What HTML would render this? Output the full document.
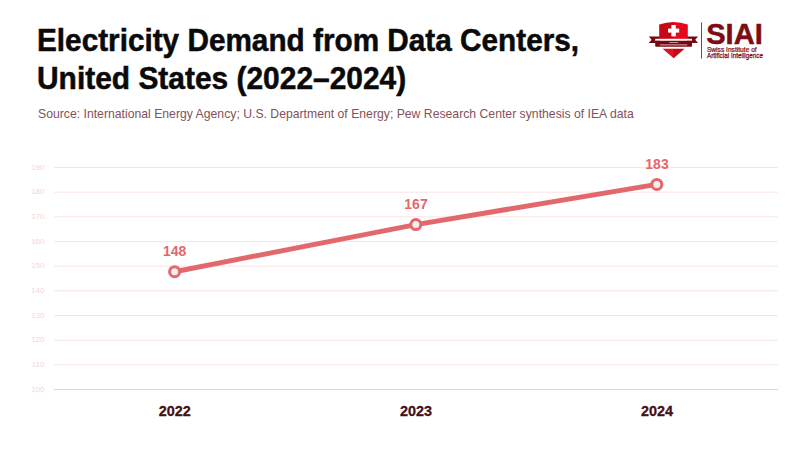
<!DOCTYPE html>
<html>
<head>
<meta charset="utf-8">
<style>
html,body{margin:0;padding:0;background:#fff;}
body{width:800px;height:450px;position:relative;overflow:hidden;font-family:"Liberation Sans",sans-serif;}
.t{position:absolute;white-space:nowrap;transform-origin:0 0;line-height:1;}
#t1{left:37px;top:25px;font-size:30.5px;transform:scaleX(0.975);font-weight:bold;color:#0a0a0a;-webkit-text-stroke:0.5px #0a0a0a;}
#t2{left:37px;top:63px;font-size:30.5px;transform:scaleX(0.981);font-weight:bold;color:#0a0a0a;-webkit-text-stroke:0.5px #0a0a0a;}
#sub{left:37.5px;top:108px;font-size:12.8px;transform:scaleX(0.955);color:#83525a;}
svg{position:absolute;left:0;top:0;}
</style>
</head>
<body>
<div class="t" id="t1">Electricity Demand from Data Centers,</div>
<div class="t" id="t2">United States (2022–2024)</div>
<div class="t" id="sub">Source: International Energy Agency; U.S. Department of Energy; Pew Research Center synthesis of IEA data</div>

<svg width="800" height="450" viewBox="0 0 800 450">
  <g stroke="#fbe3e3" stroke-width="1">
    <line x1="54" y1="167.5" x2="778" y2="167.5"/>
    <line x1="54" y1="192.17" x2="778" y2="192.17"/>
    <line x1="54" y1="216.83" x2="778" y2="216.83"/>
    <line x1="54" y1="241.5" x2="778" y2="241.5"/>
    <line x1="54" y1="266.17" x2="778" y2="266.17"/>
    <line x1="54" y1="290.83" x2="778" y2="290.83"/>
    <line x1="54" y1="315.5" x2="778" y2="315.5"/>
    <line x1="54" y1="340.17" x2="778" y2="340.17"/>
    <line x1="54" y1="364.83" x2="778" y2="364.83"/>
  </g>
  <line x1="54" y1="389.5" x2="778" y2="389.5" stroke="#d9d9d9" stroke-width="1"/>
  <g font-family="Liberation Sans" font-size="8" fill="#f6d4d4" text-anchor="end">
    <text x="44.5" y="169.5">190</text>
    <text x="44.5" y="194.2">180</text>
    <text x="44.5" y="218.8">170</text>
    <text x="44.5" y="243.5">160</text>
    <text x="44.5" y="268.2">150</text>
    <text x="44.5" y="292.8">140</text>
    <text x="44.5" y="317.5">130</text>
    <text x="44.5" y="342.2">120</text>
    <text x="44.5" y="366.8">110</text>
    <text x="44.5" y="391.5">100</text>
  </g>
  <polyline points="174.6,271.7 415.8,224.6 656.8,184.4" fill="none" stroke="#e3686c" stroke-width="5" stroke-linejoin="round"/>
  <g fill="#f0f0f0" stroke="#e3686c" stroke-width="3">
    <circle cx="174.6" cy="271.7" r="5"/>
    <circle cx="415.8" cy="224.6" r="5"/>
    <circle cx="656.8" cy="184.4" r="5"/>
  </g>
  <g font-family="Liberation Sans" font-weight="bold" font-size="14" fill="#e3686c" text-anchor="middle">
    <text x="174.7" y="255.7">148</text>
    <text x="416" y="209">167</text>
    <text x="657" y="169">183</text>
  </g>
  <g font-family="Liberation Sans" font-weight="bold" font-size="14.4" fill="#451018" stroke="#451018" stroke-width="0.3" text-anchor="middle">
    <text x="174.8" y="415.8">2022</text>
    <text x="416" y="415.8">2023</text>
    <text x="657" y="415.8">2024</text>
  </g>
</svg>

<svg width="800" height="450" viewBox="0 0 800 450">
  <!-- ribbon wings -->
  <path d="M648.8,36.6 L660,36.6 L660,43 L648.8,43 L651.6,39.8 Z" fill="#770812"/>
  <path d="M698,36.6 L687,36.6 L687,43 L698,43 L695.2,39.8 Z" fill="#770812"/>
  <!-- shield upper -->
  <path d="M659.2,24.6 Q666,22.1 674,22.1 L674,39.2 L659.2,39.2 Z" fill="#c70815"/>
  <path d="M687.8,24.6 Q681,22.1 673.5,22.1 L673.5,39.2 L687.8,39.2 Z" fill="#e40a1c"/>
  <!-- white stripe + band -->
  <rect x="655.2" y="38.8" width="36.8" height="2" fill="#ffffff"/>
  <rect x="655.2" y="40.7" width="36.8" height="6.1" rx="0.8" fill="#770812"/>
  <rect x="669.3" y="42" width="9" height="0.8" fill="#dcb0b4"/>
  <rect x="659.9" y="44.4" width="27.3" height="1" fill="#dcb0b4"/>
  <!-- bottom point -->
  <path d="M662.6,48.8 L674.1,48.8 L674.1,57.7 L673.6,58.2 Z" fill="#e5101f"/>
  <path d="M684.6,48.8 L673.6,48.8 L673.6,58.2 Z" fill="#c20a18"/>
  <!-- cross -->
  <rect x="668" y="28.6" width="11.2" height="4" fill="#fff"/>
  <rect x="671.4" y="25" width="4.4" height="11.4" fill="#fff"/>
  <!-- divider -->
  <rect x="701" y="22.4" width="1" height="36.2" fill="#9a3a40"/>
  <g fill="#7d0c14" font-family="Liberation Sans" font-weight="bold">
    <text x="0" y="0" font-size="30.3" stroke="#7d0c14" stroke-width="0.5" transform="translate(706.2,44) scale(0.96,1)">SIAI</text>
    <text x="0" y="0" font-size="7.4" font-weight="normal" stroke="#7d0c14" stroke-width="0.25" transform="translate(706.9,52.2) scale(0.9,1)">Swiss Institute of</text>
    <text x="0" y="0" font-size="7.4" font-weight="normal" stroke="#7d0c14" stroke-width="0.25" transform="translate(706.9,58.1) scale(0.86,1)">Artificial Intelligence</text>
  </g>
</svg>
</body>
</html>
